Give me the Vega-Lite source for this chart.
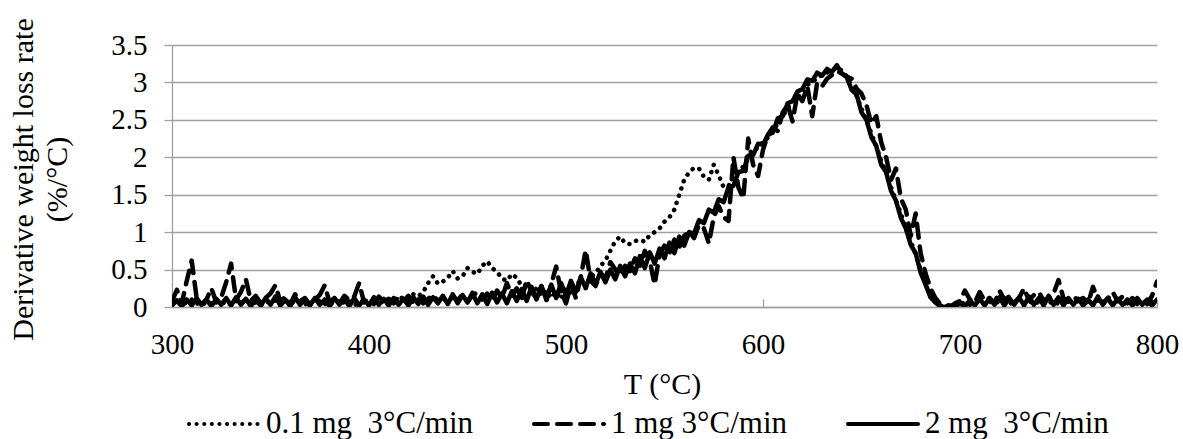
{
 "$schema": "https://vega.github.io/schema/vega-lite/v6.json",
 "width": 985,
 "height": 262,
 "autosize": {"type": "none"},
 "padding": {"left": 172, "top": 45, "right": 26, "bottom": 132},
 "background": "white",
 "config": {"view": {"stroke": null}, "font": "Liberation Serif"},
 "data": {"values": [
{"T":300,"a":0.05,"b":0.08,"c":0.02},{"T":302.5,"a":0.08,"b":0.23,"c":0.09},{"T":305,"a":0.03,"b":0.05,"c":0.01},{"T":307.5,"a":0.06,"b":0.35,"c":0.1},{"T":310,"a":0.1,"b":0.62,"c":0.02},
{"T":312.5,"a":0.04,"b":0.12,"c":0.12},{"T":315,"a":0.07,"b":0.03,"c":0.03},{"T":317.5,"a":0.02,"b":0.1,"c":0.1},{"T":320,"a":0.06,"b":0.25,"c":0.01},{"T":322.5,"a":0.09,"b":0.06,"c":0.11},
{"T":325,"a":0.04,"b":0.13,"c":0.03},{"T":327.5,"a":0.07,"b":0.33,"c":0.12},{"T":330,"a":0.03,"b":0.58,"c":0.02},{"T":332.5,"a":0.08,"b":0.1,"c":0.13},{"T":335,"a":0.05,"b":0.2,"c":0.03},
{"T":337.5,"a":0.1,"b":0.37,"c":0.11},{"T":340,"a":0.04,"b":0.08,"c":0.01},{"T":342.5,"a":0.06,"b":0.15,"c":0.1},{"T":345,"a":0.02,"b":0.05,"c":0.02},{"T":347.5,"a":0.08,"b":0.12,"c":0.12},
{"T":350,"a":0.05,"b":0.18,"c":0.03},{"T":352.5,"a":0.09,"b":0.29,"c":0.14},{"T":355,"a":0.03,"b":0.07,"c":0.02},{"T":357.5,"a":0.06,"b":0.14,"c":0.1},{"T":360,"a":0.1,"b":0.04,"c":0.01},
{"T":362.5,"a":0.04,"b":0.17,"c":0.13},{"T":365,"a":0.07,"b":0.08,"c":0.03},{"T":367.5,"a":0.03,"b":0.12,"c":0.11},{"T":370,"a":0.08,"b":0.03,"c":0.02},{"T":372.5,"a":0.05,"b":0.1,"c":0.12},
{"T":375,"a":0.09,"b":0.16,"c":0.03},{"T":377.5,"a":0.04,"b":0.29,"c":0.1},{"T":380,"a":0.07,"b":0.06,"c":0.01},{"T":382.5,"a":0.03,"b":0.13,"c":0.12},{"T":385,"a":0.1,"b":0.05,"c":0.03},
{"T":387.5,"a":0.05,"b":0.15,"c":0.11},{"T":390,"a":0.08,"b":0.09,"c":0.01},{"T":392.5,"a":0.02,"b":0.14,"c":0.12},{"T":395,"a":0.06,"b":0.32,"c":0.02},{"T":397.5,"a":0.09,"b":0.06,"c":0.1},
{"T":400,"a":0.04,"b":0.12,"c":0.02},{"T":402.5,"a":0.07,"b":0.04,"c":0.13},{"T":405,"a":0.1,"b":0.14,"c":0.03},{"T":407.5,"a":0.05,"b":0.07,"c":0.11},{"T":410,"a":0.08,"b":0.11,"c":0.02},
{"T":412.5,"a":0.12,"b":0.05,"c":0.12},{"T":415,"a":0.09,"b":0.13,"c":0.03},{"T":417.5,"a":0.14,"b":0.08,"c":0.11},{"T":420,"a":0.1,"b":0.15,"c":0.02},{"T":422.5,"a":0.17,"b":0.06,"c":0.13},
{"T":425,"a":0.14,"b":0.12,"c":0.04},{"T":427.5,"a":0.2,"b":0.05,"c":0.14},{"T":430,"a":0.32,"b":0.11,"c":0.03},{"T":432.5,"a":0.41,"b":0.16,"c":0.13},{"T":435,"a":0.31,"b":0.08,"c":0.05},
{"T":437.5,"a":0.34,"b":0.13,"c":0.15},{"T":440,"a":0.39,"b":0.05,"c":0.04},{"T":442.5,"a":0.48,"b":0.14,"c":0.17},{"T":445,"a":0.38,"b":0.09,"c":0.05},{"T":447.5,"a":0.41,"b":0.17,"c":0.16},
{"T":450,"a":0.52,"b":0.07,"c":0.06},{"T":452.5,"a":0.47,"b":0.15,"c":0.19},{"T":455,"a":0.44,"b":0.2,"c":0.05},{"T":457.5,"a":0.55,"b":0.1,"c":0.17},{"T":460,"a":0.61,"b":0.18,"c":0.04},
{"T":462.5,"a":0.52,"b":0.08,"c":0.19},{"T":465,"a":0.47,"b":0.22,"c":0.06},{"T":467.5,"a":0.38,"b":0.12,"c":0.18},{"T":470,"a":0.35,"b":0.32,"c":0.05},{"T":472.5,"a":0.44,"b":0.15,"c":0.21},
{"T":475,"a":0.39,"b":0.25,"c":0.08},{"T":477.5,"a":0.28,"b":0.1,"c":0.24},{"T":480,"a":0.22,"b":0.36,"c":0.08},{"T":482.5,"a":0.18,"b":0.2,"c":0.27},{"T":485,"a":0.25,"b":0.12,"c":0.1},
{"T":487.5,"a":0.15,"b":0.28,"c":0.28},{"T":490,"a":0.22,"b":0.08,"c":0.1},{"T":492.5,"a":0.12,"b":0.3,"c":0.3},{"T":495,"a":0.2,"b":0.54,"c":0.12},{"T":497.5,"a":0.1,"b":0.2,"c":0.32},
{"T":500,"a":0.25,"b":0.05,"c":0.15},{"T":502.5,"a":0.18,"b":0.3,"c":0.35},{"T":505,"a":0.3,"b":0.12,"c":0.2},{"T":507.5,"a":0.35,"b":0.4,"c":0.4},{"T":510,"a":0.28,"b":0.76,"c":0.25},
{"T":512.5,"a":0.4,"b":0.35,"c":0.45},{"T":515,"a":0.45,"b":0.28,"c":0.3},{"T":517.5,"a":0.55,"b":0.45,"c":0.47},{"T":520,"a":0.62,"b":0.38,"c":0.33},{"T":522.5,"a":0.75,"b":0.6,"c":0.5},
{"T":525,"a":0.88,"b":0.5,"c":0.37},{"T":527.5,"a":0.94,"b":0.42,"c":0.55},{"T":530,"a":0.85,"b":0.55,"c":0.41},{"T":532.5,"a":0.84,"b":0.48,"c":0.58},{"T":535,"a":0.88,"b":0.65,"c":0.45},
{"T":537.5,"a":0.9,"b":0.55,"c":0.68},{"T":540,"a":0.87,"b":0.75,"c":0.52},{"T":542.5,"a":0.96,"b":0.62,"c":0.73},{"T":545,"a":1.0,"b":0.3,"c":0.58},{"T":547.5,"a":1.05,"b":0.7,"c":0.78},
{"T":550,"a":1.14,"b":0.82,"c":0.65},{"T":552.5,"a":1.2,"b":0.72,"c":0.86},{"T":555,"a":1.3,"b":0.9,"c":0.72},{"T":557.5,"a":1.5,"b":0.8,"c":0.94},{"T":560,"a":1.7,"b":0.95,"c":0.82},
{"T":562.5,"a":1.8,"b":1.0,"c":1.0},{"T":565,"a":1.86,"b":0.92,"c":0.98},{"T":567.5,"a":1.85,"b":1.1,"c":1.16},{"T":570,"a":1.74,"b":1.05,"c":1.12},{"T":572.5,"a":1.7,"b":0.85,"c":1.3},
{"T":575,"a":1.9,"b":1.2,"c":1.26},{"T":577.5,"a":1.76,"b":1.35,"c":1.44},{"T":580,"a":1.6,"b":1.2,"c":1.4},{"T":582.5,"a":1.62,"b":1.15,"c":1.6},{"T":585,"a":1.72,"b":2.0,"c":1.62},
{"T":587.5,"a":1.8,"b":1.6,"c":1.8},{"T":590,"a":1.88,"b":1.45,"c":1.82},{"T":592.5,"a":1.98,"b":2.25,"c":2.02},{"T":595,"a":2.06,"b":1.9,"c":2.03},{"T":597.5,"a":2.14,"b":1.75,"c":2.18},
{"T":600,"a":2.2,"b":2.1,"c":2.17},{"T":602.5,"a":2.26,"b":2.3,"c":2.3},{"T":605,"a":2.35,"b":2.4,"c":2.33},{"T":607.5,"a":2.45,"b":2.35,"c":2.52},{"T":610,"a":2.55,"b":2.6,"c":2.55},
{"T":612.5,"a":2.65,"b":2.7,"c":2.72},{"T":615,"a":2.75,"b":2.48,"c":2.75},{"T":617.5,"a":2.8,"b":2.85,"c":2.88},{"T":620,"a":2.9,"b":2.75,"c":2.91},{"T":622.5,"a":2.97,"b":2.95,"c":3.04},
{"T":625,"a":3.0,"b":2.55,"c":3.02},{"T":627.5,"a":3.06,"b":3.0,"c":3.13},{"T":630,"a":3.1,"b":2.95,"c":3.09},{"T":632.5,"a":3.13,"b":3.05,"c":3.18},{"T":635,"a":3.16,"b":3.1,"c":3.14},
{"T":637.5,"a":3.2,"b":3.15,"c":3.23},{"T":640,"a":3.16,"b":3.12,"c":3.12},{"T":642.5,"a":3.08,"b":3.08,"c":3.07},{"T":645,"a":2.95,"b":3.05,"c":2.9},{"T":647.5,"a":2.82,"b":2.92,"c":2.84},
{"T":650,"a":2.65,"b":2.85,"c":2.6},{"T":652.5,"a":2.5,"b":2.7,"c":2.5},{"T":655,"a":2.32,"b":2.45,"c":2.27},{"T":657.5,"a":2.15,"b":2.55,"c":2.15},{"T":660,"a":1.95,"b":2.2,"c":1.9},
{"T":662.5,"a":1.8,"b":2.0,"c":1.8},{"T":665,"a":1.6,"b":1.7,"c":1.55},{"T":667.5,"a":1.42,"b":1.85,"c":1.42},{"T":670,"a":1.25,"b":1.45,"c":1.19},{"T":672.5,"a":1.05,"b":1.3,"c":1.05},
{"T":675,"a":0.88,"b":0.95,"c":0.83},{"T":677.5,"a":0.7,"b":1.25,"c":0.72},{"T":680,"a":0.5,"b":0.72,"c":0.46},{"T":682.5,"a":0.3,"b":0.45,"c":0.3},{"T":685,"a":0.15,"b":0.25,"c":0.13},
{"T":687.5,"a":0.06,"b":0.12,"c":0.06},{"T":690,"a":0.02,"b":0.04,"c":0.01},{"T":692.5,"a":0.01,"b":0.02,"c":0.0},{"T":695,"a":0.03,"b":0.0,"c":0.02},{"T":697.5,"a":0.02,"b":0.05,"c":0.0},
{"T":700,"a":0.04,"b":0.08,"c":0.05},{"T":702.5,"a":0.06,"b":0.22,"c":0.01},{"T":705,"a":0.03,"b":0.1,"c":0.09},{"T":707.5,"a":0.05,"b":0.06,"c":0.02},{"T":710,"a":0.08,"b":0.2,"c":0.11},
{"T":712.5,"a":0.04,"b":0.08,"c":0.02},{"T":715,"a":0.06,"b":0.12,"c":0.12},{"T":717.5,"a":0.09,"b":0.05,"c":0.03},{"T":720,"a":0.05,"b":0.22,"c":0.13},{"T":722.5,"a":0.08,"b":0.1,"c":0.02},
{"T":725,"a":0.04,"b":0.14,"c":0.12},{"T":727.5,"a":0.07,"b":0.06,"c":0.03},{"T":730,"a":0.1,"b":0.12,"c":0.13},{"T":732.5,"a":0.05,"b":0.25,"c":0.02},{"T":735,"a":0.08,"b":0.09,"c":0.14},
{"T":737.5,"a":0.04,"b":0.16,"c":0.03},{"T":740,"a":0.07,"b":0.2,"c":0.12},{"T":742.5,"a":0.1,"b":0.08,"c":0.02},{"T":745,"a":0.05,"b":0.13,"c":0.15},{"T":747.5,"a":0.08,"b":0.18,"c":0.03},
{"T":750,"a":0.04,"b":0.36,"c":0.13},{"T":752.5,"a":0.07,"b":0.12,"c":0.02},{"T":755,"a":0.1,"b":0.07,"c":0.12},{"T":757.5,"a":0.05,"b":0.14,"c":0.03},{"T":760,"a":0.08,"b":0.09,"c":0.11},
{"T":762.5,"a":0.04,"b":0.12,"c":0.02},{"T":765,"a":0.07,"b":0.05,"c":0.1},{"T":767.5,"a":0.05,"b":0.27,"c":0.02},{"T":770,"a":0.09,"b":0.1,"c":0.14},{"T":772.5,"a":0.04,"b":0.06,"c":0.03},
{"T":775,"a":0.07,"b":0.11,"c":0.12},{"T":777.5,"a":0.05,"b":0.2,"c":0.02},{"T":780,"a":0.08,"b":0.08,"c":0.11},{"T":782.5,"a":0.03,"b":0.14,"c":0.03},{"T":785,"a":0.06,"b":0.05,"c":0.1},
{"T":787.5,"a":0.09,"b":0.12,"c":0.02},{"T":790,"a":0.04,"b":0.07,"c":0.12},{"T":792.5,"a":0.07,"b":0.1,"c":0.03},{"T":795,"a":0.05,"b":0.04,"c":0.1},{"T":797.5,"a":0.08,"b":0.15,"c":0.02},
{"T":800,"a":0.06,"b":0.34,"c":0.1}
 ]},
 "transform": [{"fold": ["a", "b", "c"], "as": ["s", "v"]}],
 "mark": {"type": "line", "color": "black", "strokeWidth": 4.5, "strokeCap": "round", "strokeJoin": "round", "clip": true},
 "encoding": {
  "x": {"field": "T", "type": "quantitative",
   "scale": {"domain": [300, 800], "nice": false, "zero": false},
   "axis": {"values": [300, 400, 500, 600, 700, 800], "format": "d", "grid": false,
    "domainColor": "#a0a0a0", "domainWidth": 1.3, "tickColor": "#a0a0a0", "tickSize": -8, "tickWidth": 1.3,
    "labelFont": "Liberation Serif", "labelFontSize": 29, "labelColor": "black", "labelBaseline": "alphabetic",
    "labelPadding": 54, "labelFlush": false, "labelOverlap": false,
    "title": "T (°C)", "titleFont": "Liberation Serif", "titleFontSize": 30, "titleFontWeight": "normal", "titleColor": "black",
    "titleX": 490, "titleY": 86, "titleBaseline": "alphabetic", "titleAlign": "center"}},
  "y": {"field": "v", "type": "quantitative",
   "scale": {"domain": [0, 3.5], "nice": false},
   "axis": {"values": [0, 0.5, 1, 1.5, 2, 2.5, 3, 3.5], "format": "~g", "grid": true,
    "gridColor": "#a0a0a0", "gridWidth": 1.3, "domainColor": "#a0a0a0", "domainWidth": 1.3,
    "tickColor": "#a0a0a0", "tickSize": 8, "tickWidth": 1.3,
    "labelFont": "Liberation Serif", "labelFontSize": 29, "labelColor": "black", "labelPadding": 17, "labelOverlap": false,
    "title": ["Derivative weight loss rate", "(%/°C)"], "titleFont": "Liberation Serif", "titleFontSize": 30,
    "titleFontWeight": "normal", "titleColor": "black", "titleLineHeight": 34,
    "titleX": -134, "titleY": 134, "titleAngle": -90, "titleAlign": "center", "titleBaseline": "bottom"}},
  "strokeDash": {"field": "s", "type": "nominal",
   "scale": {"domain": ["a", "b", "c"], "range": [[0.1, 7.5], [14, 9], [1, 0]]},
   "legend": {"orient": "none", "legendX": 15, "legendY": 342, "direction": "horizontal", "title": null,
    "symbolType": "stroke", "symbolSize": 4900, "symbolStrokeWidth": 4, "symbolStrokeColor": "black",
    "labelFont": "Liberation Serif", "labelFontSize": 31, "labelColor": "black", "labelOffset": 5, "labelLimit": 500,
    "columnPadding": 52, "padding": 0,
    "labelExpr": "datum.value == 'a' ? '0.1 mg\u00a0 3°C/min' : datum.value == 'b' ? '1 mg 3°C/min' : '2 mg\u00a0 3°C/min'",
    "encode": {"symbols": {"update": {"strokeCap": {"value": "round"}}}}}}
 }
}
